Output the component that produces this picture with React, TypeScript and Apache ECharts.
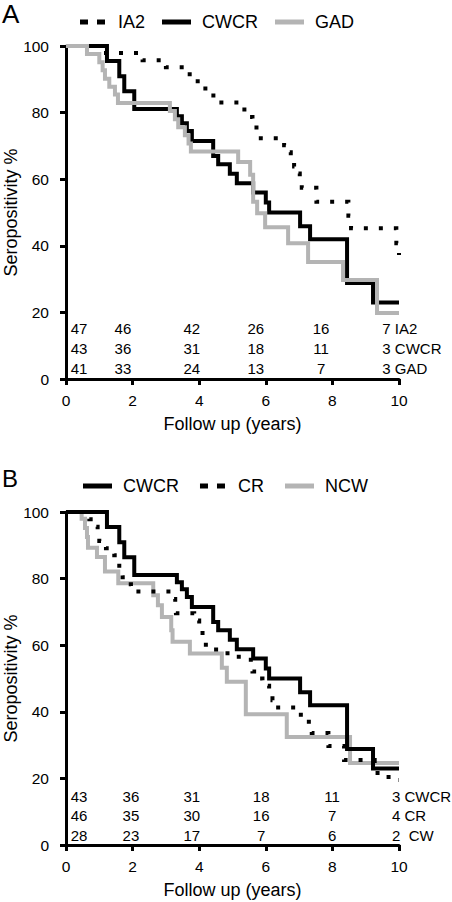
import React, { useEffect, useRef } from "react";
import * as echarts from "echarts";

const W = 452;
const H = 902;
const FONT = "'Liberation Sans', Arial, Helvetica, sans-serif";
const GRAY = "#b4b4b4";

// ---- Panel A: survival curves (time in years, seropositivity %) ----
const ia2T = [0, 1.0, 2.3, 3.0, 3.6, 3.85, 4.1, 4.35, 4.55, 5.25, 5.45, 5.6, 5.72, 5.85, 6.55, 6.65, 6.75, 6.85, 6.95, 7.02, 7.08, 7.52, 8.48, 8.56, 9.92, 10];
const ia2S = [100, 97.9, 95.7, 93.6, 91.5, 89.4, 87.2, 85.1, 83.0, 80.9, 78.7, 76.6, 74.5, 72.3, 70.2, 68.1, 66.0, 63.8, 61.7, 59.6, 57.4, 53.2, 49.0, 45.3, 40.8, 37.2];

const cwcrT = [0, 1.23, 1.6, 1.75, 2.05, 3.33, 3.48, 3.63, 3.78, 4.42, 4.57, 4.92, 5.13, 5.62, 6.0, 6.1, 7.03, 7.33, 8.44, 9.22, 10];
const cwcrS = [100, 95.5, 90.9, 86.4, 81.1, 78.9, 76.8, 74.5, 71.5, 67, 64.5, 61.6, 58.8, 56, 53, 50, 45.9, 42, 28.8, 23, 23];

const gadT = [0, 0.63, 1.0, 1.1, 1.17, 1.3, 1.47, 1.56, 3.12, 3.27, 3.37, 3.57, 3.68, 3.75, 5.17, 5.53, 5.62, 5.74, 5.98, 6.67, 7.27, 8.32, 9.34, 10];
const gadS = [100, 97.6, 95.1, 92.7, 90.2, 87.8, 85.4, 82.9, 80.5, 78.0, 75.6, 73.2, 70.7, 68.3, 65.2, 61.3, 53.2, 49.8, 45.6, 40.8, 35.1, 29.7, 19.8, 19.8];

// ---- Panel B ----
const crT = [0, 0.7, 0.85, 0.95, 1.0, 1.2, 1.45, 1.55, 1.6, 1.7, 1.8, 1.95, 3.15, 3.28, 3.3, 3.85, 4.0, 4.1, 4.15, 4.2, 4.85, 5.55, 5.6, 5.75, 5.9, 6.1, 6.2, 6.3, 6.95, 7.2, 7.38, 7.88, 8.35, 9.27, 9.6, 9.95, 10];
const crS = [100, 97.8, 95.6, 93.4, 91.3, 89.1, 87, 84.8, 82.6, 80.4, 78.3, 76.1, 73.9, 71.7, 69.6, 67.4, 65.2, 63, 60.9, 58.7, 56.5, 54.3, 52.1, 50, 47.8, 45.6, 43.5, 41.3, 39.1, 37, 33.6, 29.7, 25.5, 21.6, 20.4, 19.5, 19.5];

const ncwT = [0, 0.47, 0.57, 0.63, 0.66, 0.93, 1.17, 1.57, 2.62, 2.76, 2.88, 3.16, 3.2, 3.72, 4.68, 4.83, 5.4, 6.63, 8.53, 10];
const ncwS = [100, 98, 95.2, 92.5, 89.3, 86.5, 82.1, 78.6, 75, 72, 68.5, 64.5, 61, 57.5, 53.2, 49, 39.3, 32.4, 24.6, 24.6];

// ---- Numbers at risk ----
const riskTimesA = [0.39, 1.71, 3.78, 5.7, 7.66];
const riskLastA = 9.5;
const riskLevelsA = [15.3, 9.3, 3.2];
const riskNamesA = ["IA2", "CWCR", "GAD"];
const riskIA2 = [47, 46, 42, 26, 16, 7];
const riskCWCRA = [43, 36, 31, 18, 11, 3];
const riskGAD = [41, 33, 24, 13, 7, 3];

const riskTimesB = [0.39, 1.95, 3.78, 5.86, 7.99];
const riskLastB = 9.79;
const riskLevelsB = [14.7, 8.9, 3.0];
const riskNamesB = ["CWCR", "CR", " CW"];
const riskCWCRB = [43, 36, 31, 18, 11, 3];
const riskCR = [46, 35, 30, 16, 7, 4];
const riskCW = [28, 23, 17, 7, 6, 2];

const xName = "Follow up (years)";
const yName = "Seropositivity %";

const zip = (t: number[], s: number[]) => t.map((v, i) => [v, s[i]]);

function riskData(times: number[], last: number, levels: number[], names: string[], rows: number[][]) {
  const out: any[] = [];
  rows.forEach((row, r) => {
    row.forEach((n, c) => {
      if (c < times.length) {
        out.push({ value: [times[c], levels[r]], name: String(n) });
      } else {
        out.push({ value: [last, levels[r]], name: `${n} ${names[r]}`, label: { align: "left" } });
      }
    });
  });
  return out;
}

const DOTS = "path://M0,0h8v5h-8zM17,0h8v5h-8z";

function buildOption(): any {
  const axisLine = { show: true, onZero: false, lineStyle: { color: "#000", width: 3 } };
  const axisTick = { show: true, length: 6, lineStyle: { color: "#000", width: 3 } };
  const nameStyle = { fontSize: 18, color: "#000", fontFamily: FONT };
  const xAxes = [0, 1].map((i) => ({
    type: "value",
    gridIndex: i,
    min: 0,
    max: 10,
    interval: 2,
    axisLine,
    axisTick,
    splitLine: { show: false },
    axisLabel: { color: "#000", fontSize: 15.5, fontFamily: FONT, margin: 13 },
    name: xName,
    nameLocation: "middle",
    nameGap: 36,
    nameMoveOverlap: false,
    nameTextStyle: nameStyle,
  }));
  const yAxes = [0, 1].map((i) => ({
    type: "value",
    gridIndex: i,
    min: 0,
    max: 100,
    interval: 20,
    axisLine,
    axisTick,
    splitLine: { show: false },
    axisLabel: { color: "#000", fontSize: 15.5, fontFamily: FONT, margin: 17 },
    name: yName,
    nameLocation: "middle",
    nameGap: 46,
    nameMoveOverlap: false,
    nameTextStyle: nameStyle,
  }));

  const solid = (color: string) => ({ color, width: 4, type: "solid", cap: "butt", join: "miter" });
  const dotted = { color: "#000", width: 4, type: [4, 11], cap: "butt", join: "miter" };

  const line = (name: string, gi: number, data: number[][], lineStyle: any, z: number) => ({
    type: "line",
    name,
    xAxisIndex: gi,
    yAxisIndex: gi,
    data,
    step: "end",
    symbol: "none",
    showSymbol: false,
    lineStyle,
    itemStyle: { color: lineStyle.color },
    z,
    silent: true,
  });

  const riskSeries = (gi: number, data: any[]) => ({
    type: "scatter",
    xAxisIndex: gi,
    yAxisIndex: gi,
    symbolSize: 0,
    itemStyle: { color: "#000", opacity: 1 },
    silent: true,
    label: {
      show: true,
      position: "inside",
      formatter: "{b}",
      color: "#000",
      opacity: 1,
      textBorderWidth: 0,
      fontSize: 15,
      fontFamily: FONT,
    },
    data,
    z: 5,
  });

  const legendBase = {
    padding: 0,
    itemWidth: 29,
    itemHeight: 5,
    selectedMode: false,
    textStyle: { fontSize: 18, color: "#000", fontFamily: FONT, padding: [0, 0, 0, 6] },
  };

  return {
    animation: false,
    backgroundColor: "#fff",
    title: [
      { text: "A", left: 2, top: 1, padding: 0, textStyle: { fontSize: 26, fontWeight: "normal", color: "#000", fontFamily: FONT } },
      { text: "B", left: 2, top: 466, padding: 0, textStyle: { fontSize: 24, fontWeight: "normal", color: "#000", fontFamily: FONT } },
    ],
    legend: [
      { ...legendBase, left: 80, top: 13, itemGap: 17, data: [{ name: "IA2", icon: DOTS }, { name: "CWCR", icon: "rect" }, { name: "GAD", icon: "rect" }] },
      { ...legendBase, left: 83, top: 477, itemGap: 21, data: [{ name: "CWCR", icon: "rect" }, { name: "CR", icon: DOTS }, { name: "NCW", icon: "rect" }] },
    ],
    grid: [
      { left: 66, top: 46, width: 333, height: 333, containLabel: false, outerBoundsMode: "none" },
      { left: 66, top: 512, width: 333, height: 333, containLabel: false, outerBoundsMode: "none" },
    ],
    xAxis: xAxes,
    yAxis: yAxes,
    series: [
      line("IA2", 0, zip(ia2T, ia2S), dotted, 2),
      line("CWCR", 0, zip(cwcrT, cwcrS), solid("#000"), 3),
      line("GAD", 0, zip(gadT, gadS), solid(GRAY), 4),
      riskSeries(0, riskData(riskTimesA, riskLastA, riskLevelsA, riskNamesA, [riskIA2, riskCWCRA, riskGAD])),
      line("NCW", 1, zip(ncwT, ncwS), solid(GRAY), 2),
      line("CR", 1, zip(crT, crS), dotted, 3),
      line("CWCR", 1, zip(cwcrT, cwcrS), solid("#000"), 4),
      riskSeries(1, riskData(riskTimesB, riskLastB, riskLevelsB, riskNamesB, [riskCWCRB, riskCR, riskCW])),
    ],
  };
}

export default function App() {
  const ref = useRef<HTMLDivElement>(null);
  useEffect(() => {
    if (!ref.current) return;
    const chart = echarts.init(ref.current, null, { renderer: "svg", width: W, height: H });
    chart.setOption(buildOption());
    return () => chart.dispose();
  }, []);
  return <div ref={ref} style={{ position: "fixed", left: 0, top: 0, width: W, height: H, background: "#fff" }} />;
}
